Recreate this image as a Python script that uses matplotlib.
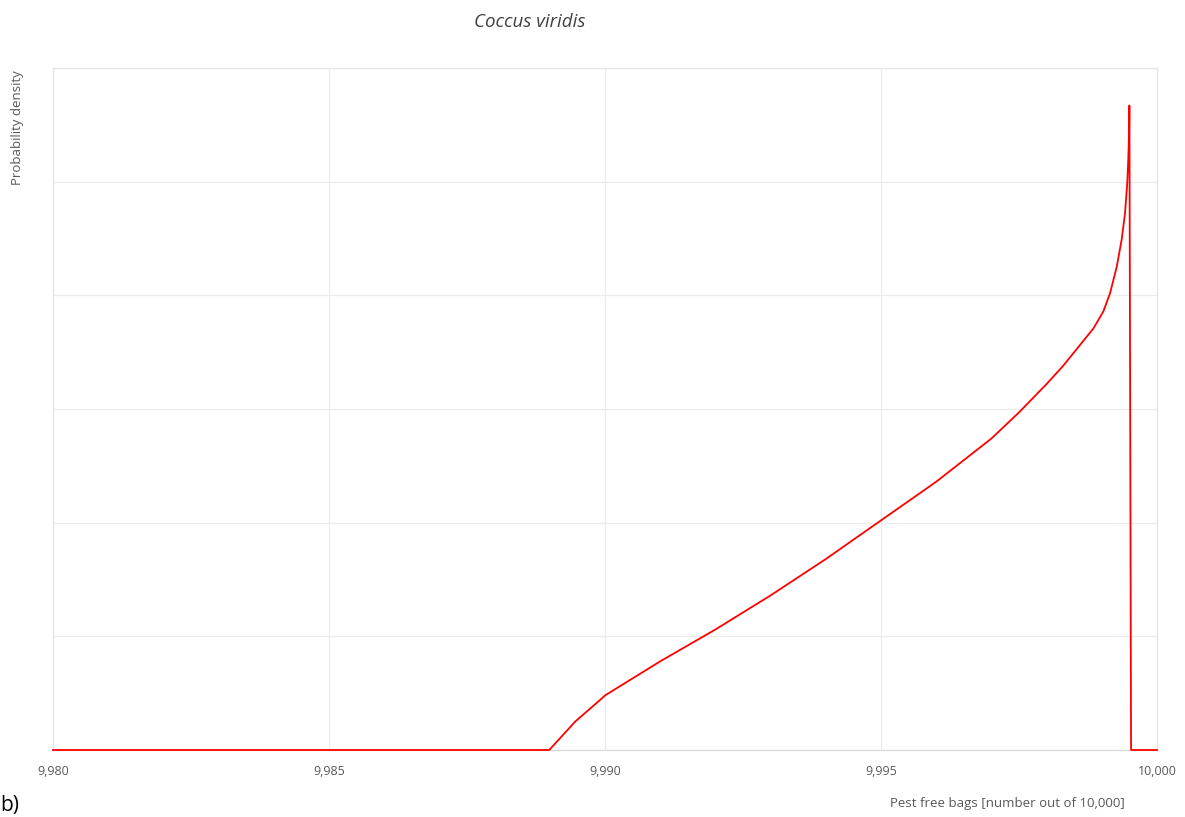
import numpy as np
import matplotlib.pyplot as plt
from matplotlib.ticker import FuncFormatter

plt.rcParams['font.family'] = ['Open Sans', 'DejaVu Sans']

# density curve (x in bags, y in grid units)
bags = [9980, 9988.99, 9989.46, 9989.91, 9990, 9991, 9992, 9993, 9994,
        9995, 9996, 9997, 9997.5, 9998, 9998.3, 9998.6, 9998.85, 9999.03,
        9999.15, 9999.27, 9999.36, 9999.42, 9999.46, 9999.48, 9999.495,
        9999.50, 9999.53, 10000]
density = [0, 0, 0.25, 0.44, 0.48, 0.78, 1.06, 1.36, 1.68,
           2.02, 2.36, 2.74, 2.97, 3.22, 3.38, 3.56, 3.71, 3.86,
           4.02, 4.25, 4.49, 4.72, 4.98, 5.2, 5.45,
           5.67, 0, 0]
xticks = [9980, 9985, 9990, 9995, 10000]

fig = plt.figure(figsize=(11.85, 8.17), dpi=100)
ax = fig.add_axes([53/1185, 67/817, 1104/1185, 682/817])

ax.plot(bags, density, color='#ff0000', lw=1.3, zorder=5, clip_on=False)

ax.set_xlim(9980, 10000)
ax.set_ylim(0, 6)
ax.set_xticks(xticks)
ax.xaxis.set_major_formatter(FuncFormatter(lambda v, p: f'{int(v):,}'))
ax.set_yticks(np.arange(0, 7))
ax.set_yticklabels([])
ax.tick_params(axis='both', length=0, colors='#595959', labelsize=9, pad=11)
ax.grid(color='#ececec', lw=0.9, zorder=0)
for s in ax.spines.values():
    s.set_color('#e6e6e6')
    s.set_linewidth(0.9)
ax.spines['bottom'].set_color('#d9d9d9')

fig.text(530/1185, 1 - 22/817, 'Coccus viridis', style='italic', color='#404040',
         fontsize=13.5, ha='center', va='center')
fig.text(18/1185, 1 - 128/817, 'Probability density', rotation=90, color='#595959',
         fontsize=9.5, ha='center', va='center')
fig.text(1007/1185, 1 - 803/817, 'Pest free bags [number out of 10,000]',
         color='#595959', fontsize=9.5, ha='center', va='center')
fig.text(0, 1/817, 'b)', color='black', fontsize=15, ha='left', va='bottom')

fig.savefig('out.png', dpi=100, facecolor='white')
